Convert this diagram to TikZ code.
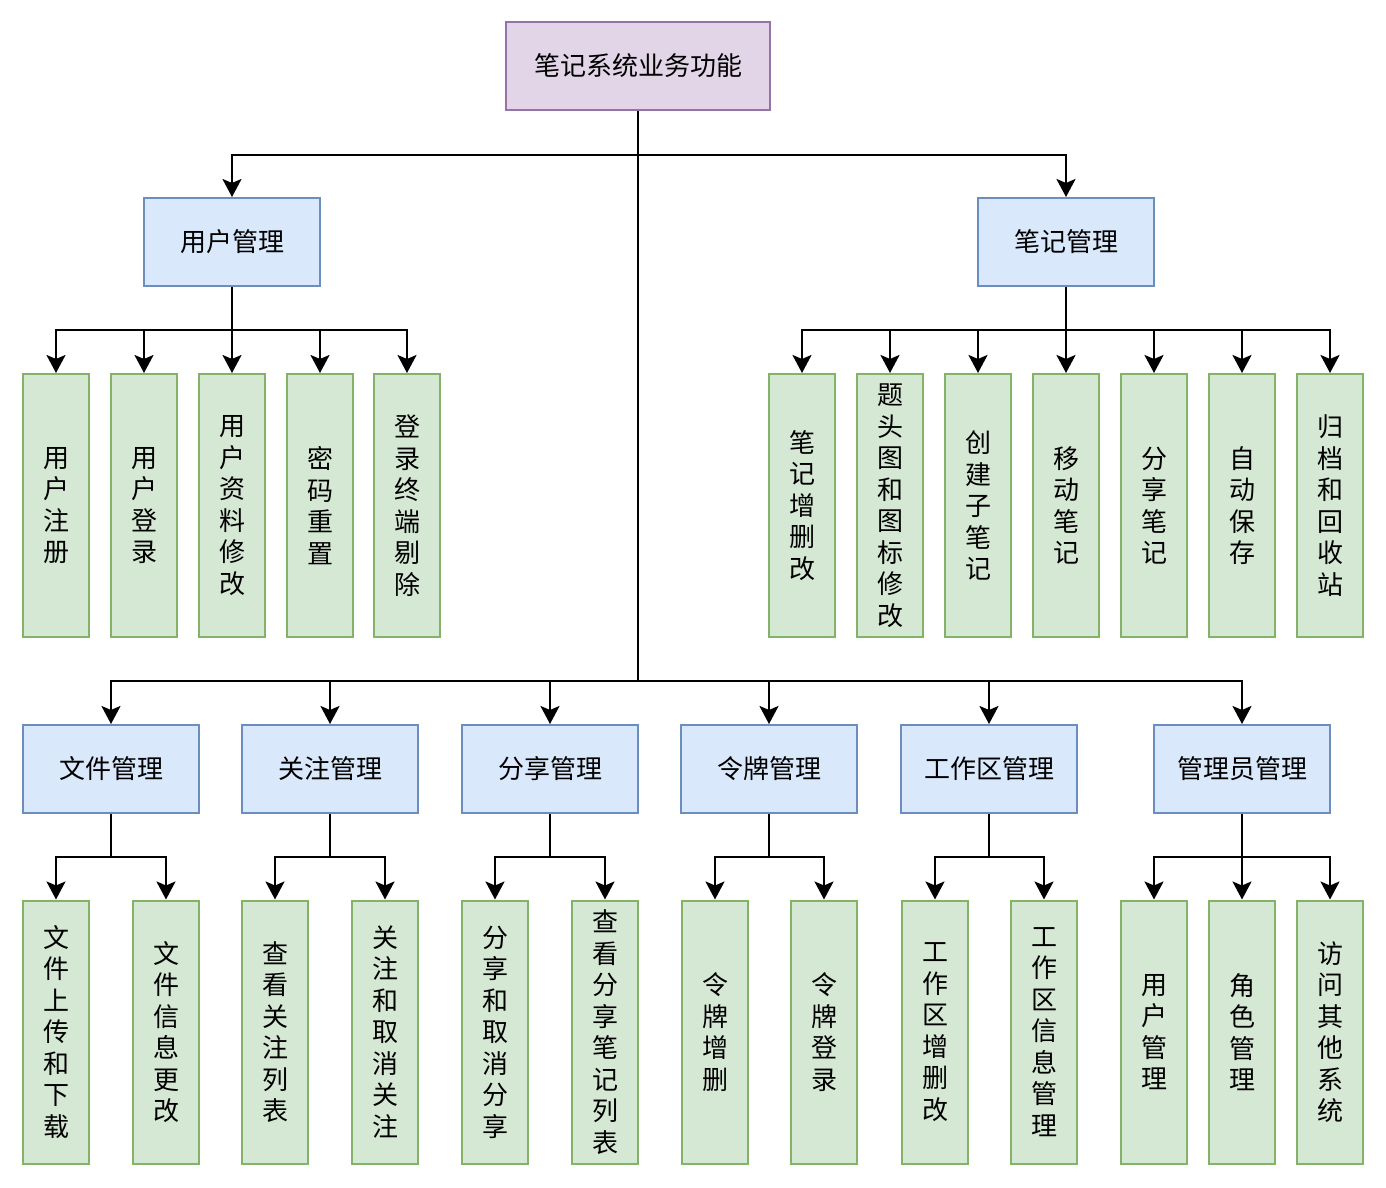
\documentclass[tikz,border=0pt]{standalone}
\usepackage{fontspec}
\newfontfamily\cjk{Noto Sans CJK SC}
\usetikzlibrary{arrows.meta}
\definecolor{purF}{HTML}{E1D5E7}
\definecolor{purD}{HTML}{9673A6}
\definecolor{bluF}{HTML}{DAE8FC}
\definecolor{bluD}{HTML}{6C8EBF}
\definecolor{grnF}{HTML}{D5E8D4}
\definecolor{grnD}{HTML}{82B366}
\tikzset{
  box/.style={inner sep=0pt, line width=2pt, align=center, font=\cjk\fontsize{26}{31.5}\selectfont},
  rootbox/.style={box, fill=purF, draw=purD, minimum width=264pt, minimum height=88pt},
  midbox/.style={box, fill=bluF, draw=bluD, minimum width=176pt, minimum height=88pt},
  leafbox/.style={box, fill=grnF, draw=grnD, minimum width=66pt, minimum height=263pt, text width=40pt},
  conn/.style={line width=2.5pt, line join=miter},
  arr/.style={conn, -{Stealth[length=18pt, width=19pt, inset=4pt]}}
}
\begin{document}
\begin{tikzpicture}[x=1pt,y=-1pt]
\useasboundingbox (0,0) rectangle (1386,1187);
% root
\node[rootbox] (root) at (638,66) {笔记系统业务功能};
% mid level
\node[midbox] (um) at (232,242) {用户管理};
\node[midbox] (nm) at (1066,242) {笔记管理};
\node[midbox] (fm) at (111,769) {文件管理};
\node[midbox] (gz) at (330,769) {关注管理};
\node[midbox] (fx) at (550,769) {分享管理};
\node[midbox] (lp) at (769,769) {令牌管理};
\node[midbox] (gzq) at (989,769) {工作区管理};
\node[midbox] (gly) at (1242,769) {管理员管理};
% user leaves
\node[leafbox] (u1) at (56,505.5) {用\\户\\注\\册};
\node[leafbox] (u2) at (144,505.5) {用\\户\\登\\录};
\node[leafbox] (u3) at (232,505.5) {用\\户\\资\\料\\修\\改};
\node[leafbox] (u4) at (320,505.5) {密\\码\\重\\置};
\node[leafbox] (u5) at (407,505.5) {登\\录\\终\\端\\剔\\除};
% note leaves
\node[leafbox] (n1) at (802,505.5) {笔\\记\\增\\删\\改};
\node[leafbox] (n2) at (890,505.5) {题\\头\\图\\和\\图\\标\\修\\改};
\node[leafbox] (n3) at (978,505.5) {创\\建\\子\\笔\\记};
\node[leafbox] (n4) at (1066,505.5) {移\\动\\笔\\记};
\node[leafbox] (n5) at (1154,505.5) {分\\享\\笔\\记};
\node[leafbox] (n6) at (1242,505.5) {自\\动\\保\\存};
\node[leafbox] (n7) at (1330,505.5) {归\\档\\和\\回\\收\\站};
% bottom leaves
\node[leafbox] (f1) at (56,1032) {文\\件\\上\\传\\和\\下\\载};
\node[leafbox] (f2) at (166,1032) {文\\件\\信\\息\\更\\改};
\node[leafbox] (g1) at (275,1032) {查\\看\\关\\注\\列\\表};
\node[leafbox] (g2) at (385,1032) {关\\注\\和\\取\\消\\关\\注};
\node[leafbox] (s1) at (495,1032) {分\\享\\和\\取\\消\\分\\享};
\node[leafbox] (s2) at (605,1032) {查\\看\\分\\享\\笔\\记\\列\\表};
\node[leafbox] (l1) at (715,1032) {令\\牌\\增\\删};
\node[leafbox] (l2) at (824,1032) {令\\牌\\登\\录};
\node[leafbox] (w1) at (935,1032) {工\\作\\区\\增\\删\\改};
\node[leafbox] (w2) at (1044,1032) {工\\作\\区\\信\\息\\管\\理};
\node[leafbox] (a1) at (1154,1032) {用\\户\\管\\理};
\node[leafbox] (a2) at (1242,1032) {角\\色\\管\\理};
\node[leafbox] (a3) at (1330,1032) {访\\问\\其\\他\\系\\统};
% bus coordinates
\coordinate (rb1) at (638,155);
\coordinate (rb2) at (638,681);
\coordinate (ub) at (232,330);
\coordinate (nb) at (1066,330);
\coordinate (fb) at (111,857);
\coordinate (gb) at (330,857);
\coordinate (sb) at (550,857);
\coordinate (lb) at (769,857);
\coordinate (wb) at (989,857);
\coordinate (ab) at (1242,857);
% root connectors
\draw[conn] (root.south) -- (rb2);
\draw[arr] (rb1) -| (um.north);
\draw[arr] (rb1) -| (nm.north);
\foreach \m in {fm,gz,fx,lp,gzq,gly} \draw[arr] (rb2) -| (\m.north);
% user
\draw[conn] (um.south) -- (ub);
\foreach \m in {u1,u2,u3,u4,u5} \draw[arr] (ub) -| (\m.north);
% notes
\draw[conn] (nm.south) -- (nb);
\foreach \m in {n1,n2,n3,n4,n5,n6,n7} \draw[arr] (nb) -| (\m.north);
% bottom groups
\draw[conn] (fm.south) -- (fb);
\foreach \m in {f1,f2} \draw[arr] (fb) -| (\m.north);
\draw[conn] (gz.south) -- (gb);
\foreach \m in {g1,g2} \draw[arr] (gb) -| (\m.north);
\draw[conn] (fx.south) -- (sb);
\foreach \m in {s1,s2} \draw[arr] (sb) -| (\m.north);
\draw[conn] (lp.south) -- (lb);
\foreach \m in {l1,l2} \draw[arr] (lb) -| (\m.north);
\draw[conn] (gzq.south) -- (wb);
\foreach \m in {w1,w2} \draw[arr] (wb) -| (\m.north);
\draw[conn] (gly.south) -- (ab);
\foreach \m in {a1,a2,a3} \draw[arr] (ab) -| (\m.north);
\end{tikzpicture}
\end{document}
